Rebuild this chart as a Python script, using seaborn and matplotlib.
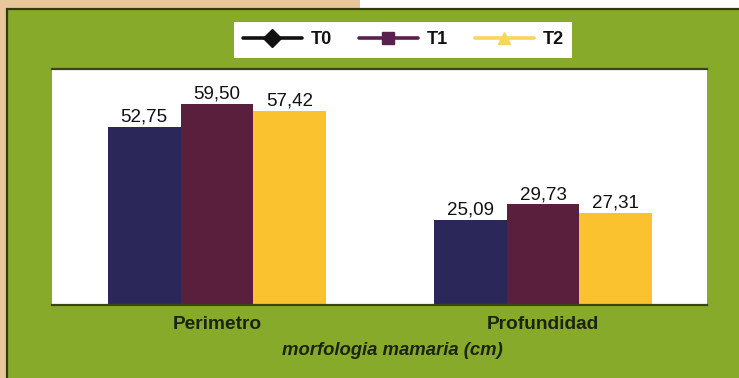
import matplotlib
matplotlib.use("Agg")
import matplotlib.pyplot as plt
from matplotlib.patches import Rectangle
from matplotlib.lines import Line2D
import seaborn as sns
import pandas as pd

# Mammary morphology measurements (cm) per treatment
categorias = ["Perimetro", "Profundidad"]
tratamientos = ["T0", "T1", "T2"]
t0_valores = [52.75, 25.09]
t1_valores = [59.50, 29.73]
t2_valores = [57.42, 27.31]

bar_colores = ["#2b2859", "#5b1f3e", "#fbc22f"]
leyenda_colores = ["#111111", "#5a2050", "#f7d65a"]
leyenda_marcadores = ["D", "s", "^"]

df = pd.DataFrame({
    "categoria": categorias * 3,
    "tratamiento": [t for t in tratamientos for _ in categorias],
    "valor": t0_valores + t1_valores + t2_valores,
})

sns.set_theme(style="white")
plt.rcParams["font.family"] = ["Liberation Sans", "DejaVu Sans"]

W, H = 739, 378
fig = plt.figure(figsize=(W / 100, H / 100), dpi=100, facecolor="#e8c89b")

# Background panels: white strip top-right, green panel with dark edge
fig.patches.append(Rectangle((360 / W, 1 - 8 / H), 1 - 360 / W, 8 / H,
                             transform=fig.transFigure, facecolor="white",
                             edgecolor="none", zorder=-10))
fig.patches.append(Rectangle((7 / W, -0.01), 1 - 7 / W + 0.01, 1 - 9 / H + 0.01,
                             transform=fig.transFigure, facecolor="#88aa2b",
                             edgecolor="#34380f", linewidth=1.6, zorder=-10))

ax = fig.add_axes([52 / W, 1 - 305 / H, (707 - 52) / W, (305 - 69) / H])
ax.set_facecolor("white")
ax.set_zorder(1)

sns.barplot(data=df, x="categoria", y="valor", hue="tratamiento",
            hue_order=tratamientos, palette=bar_colores, width=0.67,
            saturation=1, legend=False, ax=ax, errorbar=None, linewidth=0)

for cont in ax.containers:
    vals = [b.get_height() for b in cont]
    ax.bar_label(cont, labels=[f"{v:.2f}".replace(".", ",") for v in vals],
                 padding=1, fontsize=13.5, color="#111111")

ax.set_ylim(0, 69.8)
ax.set_xlim(-0.506, 1.503)
ax.set_yticks([])
ax.tick_params(axis="x", length=0, pad=8)
for lbl in ax.get_xticklabels():
    lbl.set_fontsize(13.8)
    lbl.set_fontweight("bold")
    lbl.set_color("#1c2410")
ax.set_ylabel("")
ax.set_xlabel("morfologia mamaria (cm)", fontsize=13.3, fontweight="bold",
              fontstyle="italic", color="#1c2410", labelpad=3)
ax.xaxis.set_label_coords((392 - 52) / (707 - 52), -0.155)

for side in ["left", "right"]:
    ax.spines[side].set_visible(False)
for side in ["top", "bottom"]:
    ax.spines[side].set_color("#3b4514")
    ax.spines[side].set_linewidth(1.6)

handles = [Line2D([0], [0], color=c, marker=m, markersize=9, linewidth=2.6,
                  markerfacecolor=c, markeredgecolor=c)
           for c, m in zip(leyenda_colores, leyenda_marcadores)]
leg = fig.legend(handles, tratamientos, loc="center",
                 bbox_to_anchor=(403 / W, 1 - 40 / H), ncol=3,
                 frameon=True, fancybox=False, framealpha=1,
                 handlelength=3.3, handletextpad=0.45, columnspacing=1.5,
                 borderpad=0.5, prop={"weight": "bold", "size": 13})
leg.get_frame().set_facecolor("white")
leg.get_frame().set_edgecolor("none")
leg.set_zorder(2)
for t in leg.get_texts():
    t.set_color("#111111")

fig.savefig("out.png", dpi=100, facecolor=fig.get_facecolor())
